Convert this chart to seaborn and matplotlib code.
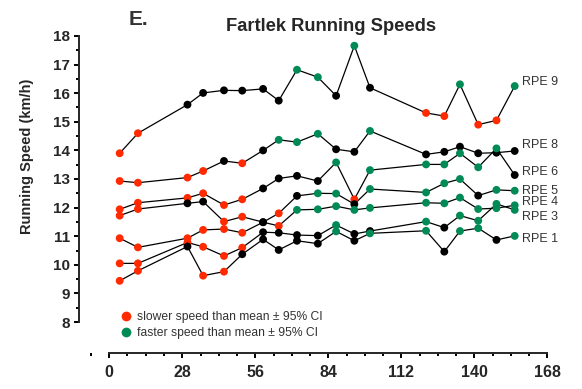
import matplotlib
matplotlib.use("Agg")
import matplotlib.pyplot as plt
from matplotlib.lines import Line2D
from matplotlib.ticker import MultipleLocator
import seaborn as sns
import pandas as pd

# days of the training block (x positions of every measurement)
days = [4, 11, 30, 36, 44, 51, 59, 65, 72, 80, 87, 94, 100, 121.5, 128.5, 134.5, 141.5, 148.5, 155.5]

# running speed (km/h) per RPE level, and point flag: r = slower, g = faster, k = within CI
rpe9 = [13.90, 14.60, 15.60, 16.01, 16.10, 16.09, 16.15, 15.74, 16.82, 16.56, 15.91, 17.66, 16.19, 15.31, 15.20, 16.31, 14.90, 15.05, 16.25]
rpe9_flag = "rrkkkkkkggkgkrrgrrg"
rpe8 = [12.93, 12.87, 13.05, 13.28, 13.63, 13.55, 14.00, 14.37, 14.29, 14.58, 14.04, 13.95, 14.68, 13.86, 13.95, 14.13, 13.90, 13.92, 13.98]
rpe8_flag = "rrrrkrkgggkkgkkkkkk"
rpe6 = [11.94, 12.17, 12.34, 12.50, 12.09, 12.29, 12.67, 13.02, 13.11, 12.93, 13.58, 12.29, 13.31, 13.51, 13.51, 13.90, 13.41, 14.07, 13.14]
rpe6_flag = "rrrrrrkkkkgrggggggk"
rpe5 = [10.93, 10.61, 10.93, 11.22, 11.25, 11.12, 11.49, 11.80, 12.41, 12.50, 12.49, 12.12, 12.65, 12.53, 12.85, 13.00, 12.42, 12.62, 12.59]
rpe5_flag = "rrrrrrkrkggkggggkgg"
rpe4 = [11.72, 11.95, 12.15, 12.21, 11.51, 11.68, 11.49, 11.36, 11.92, 11.94, 12.05, 11.92, 11.99, 12.17, 12.15, 12.35, 11.95, 11.98, 12.08]
rpe4_flag = "rrkkrrkrggggggggggg"
rpe3 = [10.05, 10.05, 10.78, 10.63, 10.31, 10.60, 11.14, 11.12, 11.04, 11.02, 11.39, 11.08, 11.18, 11.51, 11.30, 11.72, 11.54, 12.13, 11.92]
rpe3_flag = "rrrrrrkkkkgkkgkgggg"
rpe1 = [9.44, 9.79, 10.64, 9.62, 9.76, 10.37, 10.89, 10.52, 10.84, 10.74, 11.17, 10.84, 11.10, 11.19, 10.46, 11.18, 11.28, 10.87, 11.01]
rpe1_flag = "rrkrrkkkkkgkggkggkg"

series_names = ["RPE 9", "RPE 8", "RPE 6", "RPE 5", "RPE 4", "RPE 3", "RPE 1"]
series_vals = [rpe9, rpe8, rpe6, rpe5, rpe4, rpe3, rpe1]
series_flags = [rpe9_flag, rpe8_flag, rpe6_flag, rpe5_flag, rpe4_flag, rpe3_flag, rpe1_flag]

legend_labels = ["slower speed than mean \u00b1 95% CI", "faster speed than mean \u00b1 95% CI"]

RED = "#ff2a00"
GREEN = "#008a55"
palette = {"r": RED, "g": GREEN, "k": "black"}

# label nudges in points (dx, dy) so the end labels do not collide
label_offset = {"RPE 9": (5, 3), "RPE 8": (5, 4.5), "RPE 6": (5, 2), "RPE 5": (5, 0),
                "RPE 4": (5, 2.5), "RPE 3": (5, -5), "RPE 1": (5, -2)}

rows = []
for name, vals, flags in zip(series_names, series_vals, series_flags):
    for d, v, f in zip(days, vals, flags):
        rows.append({"day": d, "speed": v, "rpe": name, "flag": f})
df = pd.DataFrame(rows)

sns.set_style("ticks")
plt.rcParams["font.family"] = ["Liberation Sans", "DejaVu Sans"]

fig = plt.figure(figsize=(5.82, 3.89), dpi=100)
ax = fig.add_axes([79 / 582, 67 / 389, 468.3 / 582, 286 / 389])

sns.lineplot(data=df, x="day", y="speed", units="rpe", estimator=None, sort=False,
             color="black", linewidth=0.9, ax=ax, legend=False)
sns.scatterplot(data=df, x="day", y="speed", hue="flag", palette=palette, s=32,
                linewidth=0, ax=ax, legend=False, zorder=3, clip_on=False)

# end-of-line labels
for name, vals in zip(series_names, series_vals):
    ax.annotate(name, xy=(days[-1], vals[-1]), xytext=label_offset[name],
                textcoords="offset points", ha="left", va="center",
                fontsize=9, color="#333333", annotation_clip=False)

ax.set_xlim(-11.6, 168)
ax.set_ylim(8, 18)
ax.xaxis.set_major_locator(MultipleLocator(28))
ax.xaxis.set_minor_locator(MultipleLocator(7))
ax.yaxis.set_major_locator(MultipleLocator(1))
ax.yaxis.set_minor_locator(MultipleLocator(0.5))

for s in ["top", "right"]:
    ax.spines[s].set_visible(False)
ax.spines["left"].set_bounds(8, 18)
ax.spines["bottom"].set_bounds(0, 168)
ax.spines["bottom"].set_position(("outward", 22.3))
for s in ["left", "bottom"]:
    ax.spines[s].set_linewidth(1.4)

ax.tick_params(axis="both", which="major", length=3.6, width=1.4, color="black")
ax.tick_params(axis="both", which="minor", length=2.3, width=1.4, color="black")
ax.tick_params(axis="y", which="major", pad=3, labelsize=11)
ax.tick_params(axis="x", which="major", pad=5, labelsize=11.5)
for lab in ax.get_xticklabels() + ax.get_yticklabels():
    lab.set_fontweight("bold")

ax.set_xlabel("")
ax.set_ylabel("Running Speed (km/h)", fontsize=10.5, fontweight="bold")
ax.yaxis.label.set_va("center")
ax.yaxis.set_label_coords(-0.111, 0.58)

ax.set_title("Fartlek Running Speeds", fontsize=13.2, fontweight="bold", x=0.538, y=1.0175, pad=0)
fig.text(129 / 582, 1 - 25 / 389, "E.", ha="left", va="baseline", fontsize=15,
         fontweight="bold", color="#333333")

handles = [Line2D([], [], linestyle="none", marker="o", markersize=7, color=RED, markeredgewidth=0),
           Line2D([], [], linestyle="none", marker="o", markersize=7, color=GREEN, markeredgewidth=0)]
leg = fig.legend(handles, legend_labels, loc="upper left", bbox_to_anchor=(121 / 582, 1 - 311 / 389),
                 frameon=False, fontsize=8.7, handlelength=0.8, handletextpad=0.5,
                 labelspacing=0.35, borderpad=0, borderaxespad=0)
for t in leg.get_texts():
    t.set_color("#333333")

fig.savefig("out.png", dpi=100)
